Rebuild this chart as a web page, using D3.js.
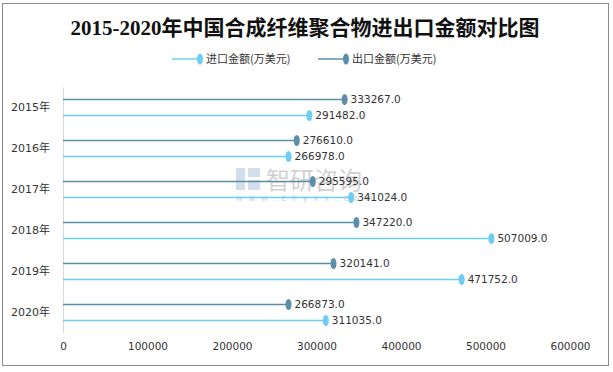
<!DOCTYPE html>
<html>
<head>
<meta charset="utf-8">
<script src="https://cdn.jsdelivr.net/npm/d3@7"></script>
<style>
  body { margin: 0; background: #fff; }
  svg { display: block; }
</style>
</head>
<body>
<div id="chart"></div>
<script>
var years = ['2015年', '2016年', '2017年', '2018年', '2019年', '2020年'];
var importValues = [291482.0, 266978.0, 341024.0, 507009.0, 471752.0, 311035.0];
var exportValues = [333267.0, 276610.0, 295595.0, 347220.0, 320141.0, 266873.0];
var xTicks = [0, 100000, 200000, 300000, 400000, 500000, 600000];
var seriesNames = ['进口金额(万美元)', '出口金额(万美元)'];

var svgWidth = 613;
var svgHeight = 372;
var darkColor = '#5b8fa9';
var lightColor = '#6ccdf5';
var textFont = '"DejaVu Sans", "Noto Sans CJK SC", sans-serif';

var svg = d3.select('#chart')
  .append('svg')
  .attr('width', svgWidth)
  .attr('height', svgHeight);

// outer frame
svg.append('rect')
  .attr('x', 2.5).attr('y', 3.5)
  .attr('width', 606).attr('height', 362)
  .attr('fill', 'none')
  .attr('stroke', '#8c8c8c')
  .attr('stroke-width', 1);

// title
svg.append('text')
  .attr('x', 305).attr('y', 35)
  .attr('text-anchor', 'middle')
  .attr('font-family', '"Liberation Serif", "Noto Sans CJK SC", serif')
  .attr('font-weight', 'bold')
  .attr('font-size', 21)
  .attr('fill', '#111')
  .text('2015-2020年中国合成纤维聚合物进出口金额对比图');

// legend
var legendItems = [
  { name: seriesNames[0], color: lightColor, x: 172 },
  { name: seriesNames[1], color: darkColor, x: 318 }
];
var legend = svg.append('g').attr('transform', 'translate(0, 59)');
legendItems.forEach(function(d) {
  legend.append('line')
    .attr('x1', d.x).attr('x2', d.x + 28)
    .attr('y1', 0).attr('y2', 0)
    .attr('stroke', d.color).attr('stroke-width', 1.5);
  legend.append('ellipse')
    .attr('cx', d.x + 28).attr('cy', 0)
    .attr('rx', 3).attr('ry', 5.5)
    .attr('fill', d.color);
  legend.append('text')
    .attr('x', d.x + 34).attr('y', 0)
    .attr('dy', '0.35em')
    .attr('font-family', '"Noto Sans CJK SC", sans-serif')
    .attr('font-size', 11)
    .attr('fill', '#333')
    .text(d.name);
});

// watermark
var wm = svg.append('g').attr('opacity', 0.45);
wm.append('rect').attr('x', 236).attr('y', 168).attr('width', 9).attr('height', 22).attr('fill', '#9fb8d8');
wm.append('rect').attr('x', 248).attr('y', 168).attr('width', 12).attr('height', 9).attr('fill', '#9fb8d8');
wm.append('rect').attr('x', 248).attr('y', 180).attr('width', 12).attr('height', 10).attr('fill', '#9fb8d8');
wm.append('text')
  .attr('x', 266).attr('y', 189)
  .attr('font-family', '"Noto Sans CJK SC", sans-serif')
  .attr('font-size', 24)
  .attr('fill', '#999')
  .text('智研咨询');
wm.append('text')
  .attr('x', 236).attr('y', 201)
  .attr('font-family', '"DejaVu Sans", sans-serif')
  .attr('font-size', 8)
  .attr('letter-spacing', 6)
  .attr('fill', '#999')
  .text('www.chyxx.com');

// scales
var x = d3.scaleLinear().domain([0, 600000]).range([63, 570]);
var y = d3.scaleBand().domain(years).range([87, 333]);

// x axis tick labels
var xAxis = svg.append('g')
  .attr('transform', 'translate(0, 341)')
  .call(d3.axisBottom(x).tickValues(xTicks).tickSize(0).tickPadding(0).tickFormat(d3.format('d')));
xAxis.select('.domain').remove();
xAxis.selectAll('text')
  .attr('dy', '0.9em')
  .attr('font-family', textFont)
  .attr('font-size', 10.5)
  .attr('fill', '#333');

// y axis
var yAxis = svg.append('g')
  .attr('transform', 'translate(63, 0)')
  .call(d3.axisLeft(y).tickSize(0).tickPadding(13));
yAxis.select('.domain').attr('stroke', '#d9d9d9');
yAxis.selectAll('text')
  .attr('font-family', textFont)
  .attr('font-size', 11)
  .attr('fill', '#333');

var rows = years.map(function(yr, i) {
  return { year: yr, imp: importValues[i], exp: exportValues[i] };
});

var series = [
  { key: 'exp', color: darkColor, offset: -8 },
  { key: 'imp', color: lightColor, offset: 8 }
];

series.forEach(function(s) {
  var g = svg.append('g');
  g.selectAll('line')
    .data(rows)
    .enter()
    .append('line')
    .attr('x1', x(0))
    .attr('x2', d => x(d[s.key]))
    .attr('y1', d => y(d.year) + y.bandwidth() / 2 + s.offset)
    .attr('y2', d => y(d.year) + y.bandwidth() / 2 + s.offset)
    .attr('stroke', s.color)
    .attr('stroke-width', 1.5);
  g.selectAll('ellipse')
    .data(rows)
    .enter()
    .append('ellipse')
    .attr('cx', d => x(d[s.key]))
    .attr('cy', d => y(d.year) + y.bandwidth() / 2 + s.offset)
    .attr('rx', 3).attr('ry', 5.5)
    .attr('fill', s.color);
  g.selectAll('text')
    .data(rows)
    .enter()
    .append('text')
    .attr('x', d => x(d[s.key]) + 6)
    .attr('y', d => y(d.year) + y.bandwidth() / 2 + s.offset)
    .attr('dy', '0.35em')
    .attr('font-family', textFont)
    .attr('font-size', 10.5)
    .attr('fill', '#333')
    .text(d => d[s.key].toFixed(1));
});
</script>
</body>
</html>
